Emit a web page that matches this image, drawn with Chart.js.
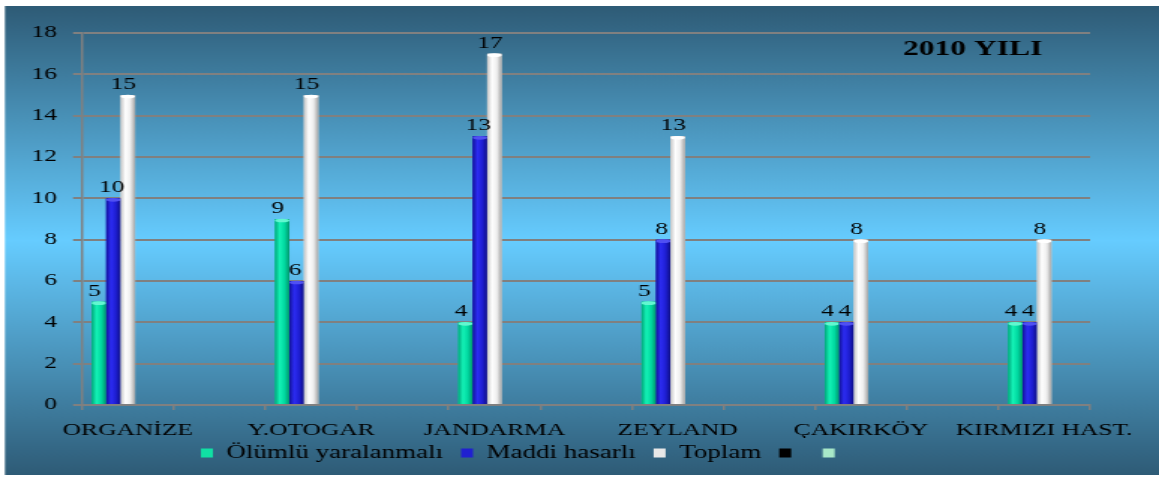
<!DOCTYPE html>
<html lang="tr">
<head>
<meta charset="utf-8">
<title>2010 YILI</title>
<script src="https://cdn.jsdelivr.net/npm/chart.js@4/dist/chart.umd.min.js"></script>
<style>
  html, body { margin: 0; padding: 0; background: #fff; overflow: hidden; }
  /* grafik dar çizilip yatayda genişletiliyor */
  #kutu { width: 773px; height: 480px; transform: scaleX(1.4994); transform-origin: 0 0; }
  #grafik { display: block; }
</style>
</head>
<body>
<div id="kutu"><canvas id="grafik" width="773" height="480" style="width:773px;height:480px"></canvas></div>
<script>
// Bölgeler ve kaza sayıları
const bolgeler = ['ORGANİZE', 'Y.OTOGAR', 'JANDARMA', 'ZEYLAND', 'ÇAKIRKÖY', 'KIRMIZI HAST.'];
const olumluYaralanmali = [5, 9, 4, 5, 4, 4];
const maddiHasarli = [10, 6, 13, 8, 4, 4];
const toplam = [15, 15, 17, 13, 8, 8];
const yTikleri = [0, 2, 4, 6, 8, 10, 12, 14, 16, 18];
const baslik = '2010 YILI';

const yaziTipi = "'Liberation Serif', 'Times New Roman', serif";
Chart.defaults.font.family = yaziTipi;
Chart.defaults.color = '#000';

// Her bölgenin arasına boş bir sütun aralığı girer
function aralikli(dizi, bos) {
  const sonuc = [];
  dizi.forEach((d, i) => {
    if (i > 0) sonuc.push(bos);
    sonuc.push(d);
  });
  return sonuc;
}

// Sütun renkleri (soldan sağa gövde tonu, üst kapak, etiket kayması)
const sutunTonlari = [
  { govde: ['#00a57a', '#14f2b6', '#00d8a0', '#00966c'], kapak: '#62f7d0', kayma: -3 },
  { govde: ['#12129a', '#2c2cf2', '#1e1ed2', '#0e0e84'], kapak: '#5050f2', kayma: -1 },
  { govde: ['#c4c4c4', '#ffffff', '#eeeeee', '#a4a4a4'], kapak: '#ffffff', kayma: -3 }
];

// Arka plan degrade
const arkaPlan = {
  id: 'arkaPlan',
  beforeDraw(chart) {
    const ctx = chart.ctx;
    ctx.save();
    ctx.fillStyle = '#ffffff';
    ctx.fillRect(0, 0, chart.width, chart.height);
    const g = ctx.createLinearGradient(0, 6, 0, 475);
    g.addColorStop(0, '#2e5b76');
    g.addColorStop(0.5, '#66ccff');
    g.addColorStop(1, '#2e5b76');
    ctx.fillStyle = g;
    ctx.fillRect(3.3, 6, chart.width - 3.3, 469);
    ctx.restore();
  }
};

// Lejantı sola ve yukarı kaydır
const lejantYeri = {
  id: 'lejantYeri',
  afterLayout(chart) {
    const lg = chart.legend;
    const pad = lg.options.labels.padding;
    const w = lg.right - lg.left;
    const h = lg.bottom - lg.top;
    lg.left = 134 - pad;
    lg.right = lg.left + w;
    lg.top -= 6;
    lg.bottom = lg.top + h;
  }
};

// Silindir görünümü ve değer etiketleri
const sutunSusu = {
  id: 'sutunSusu',
  afterDatasetsDraw(chart) {
    const ctx = chart.ctx;
    ctx.save();
    chart.data.datasets.forEach((ds, i) => {
      const ton = sutunTonlari[i];
      if (!ton) return;
      chart.getDatasetMeta(i).data.forEach((bar, j) => {
        if (ds.data[j] == null) return;
        const { x, y, base, width } = bar.getProps(['x', 'y', 'base', 'width'], true);
        const sol = x - width / 2;
        const g = ctx.createLinearGradient(sol, 0, sol + width, 0);
        ton.govde.forEach((c, k) => g.addColorStop(k / (ton.govde.length - 1), c));
        ctx.fillStyle = g;
        ctx.fillRect(sol, y, width, base - y);
        ctx.fillStyle = ton.kapak;
        ctx.beginPath();
        ctx.ellipse(x, y + 1.5, width / 2, 1.8, 0, 0, Math.PI * 2);
        ctx.fill();
      });
    });

    ctx.fillStyle = '#000';
    ctx.font = '17px ' + yaziTipi;
    ctx.textAlign = 'center';
    ctx.textBaseline = 'alphabetic';
    chart.data.datasets.forEach((ds, i) => {
      const ton = sutunTonlari[i];
      if (!ton) return;
      chart.getDatasetMeta(i).data.forEach((bar, j) => {
        const v = ds.data[j];
        if (v == null) return;
        const { x, y } = bar.getProps(['x', 'y'], true);
        ctx.fillText(String(v), x + ton.kayma, y - 6);
      });
    });

    // başlık
    ctx.font = 'bold 21px ' + yaziTipi;
    ctx.fillText(baslik, 648.7, 55);
    ctx.restore();
  }
};

const etiketler = aralikli(bolgeler, '');

new Chart(document.getElementById('grafik'), {
  type: 'bar',
  data: {
    labels: etiketler,
    datasets: [
      { label: 'Ölümlü yaralanmalı', data: aralikli(olumluYaralanmali, null), backgroundColor: '#10e0a4' },
      { label: 'Maddi hasarlı', data: aralikli(maddiHasarli, null), backgroundColor: '#2020d0' },
      { label: 'Toplam', data: aralikli(toplam, null), backgroundColor: '#e8e8e8' },
      { label: '', data: etiketler.map(() => null), backgroundColor: '#000000' },
      { label: '', data: etiketler.map(() => null), backgroundColor: '#a8e8c8' }
    ]
  },
  options: {
    responsive: false,
    animation: false,
    devicePixelRatio: 1,
    datasets: {
      bar: { categoryPercentage: 0.79, barPercentage: 1, borderWidth: 0 }
    },
    layout: { padding: { top: 33, left: 0, right: 46, bottom: 2 } },
    plugins: {
      title: { display: false },
      tooltip: { enabled: false },
      legend: {
        position: 'bottom',
        align: 'start',
        labels: {
          boxWidth: 8,
          boxHeight: 9,
          padding: 12,
          color: '#000',
          font: { family: yaziTipi, size: 18 }
        }
      }
    },
    scales: {
      x: {
        grid: { drawOnChartArea: false, drawTicks: true, tickLength: 5, color: '#808080', lineWidth: 1.5, offset: true },
        border: { display: true, color: '#808080', width: 2 },
        ticks: { autoSkip: false, maxRotation: 0, minRotation: 0, padding: 10, color: '#000', font: { family: yaziTipi, size: 17 } },
        afterFit(s) { s.height = 33; }
      },
      y: {
        min: yTikleri[0],
        max: yTikleri[yTikleri.length - 1],
        grid: { color: '#808080', lineWidth: 2, tickLength: 6, drawTicks: true },
        border: { display: true, color: '#808080', width: 1.5 },
        ticks: { padding: 10.7, color: '#000', font: { family: yaziTipi, size: 17 } },
        afterBuildTicks(s) { s.ticks = yTikleri.map(v => ({ value: v })); },
        afterFit(s) { s.width = 54.7; }
      }
    }
  },
  plugins: [arkaPlan, lejantYeri, sutunSusu]
});
</script>
</body>
</html>
